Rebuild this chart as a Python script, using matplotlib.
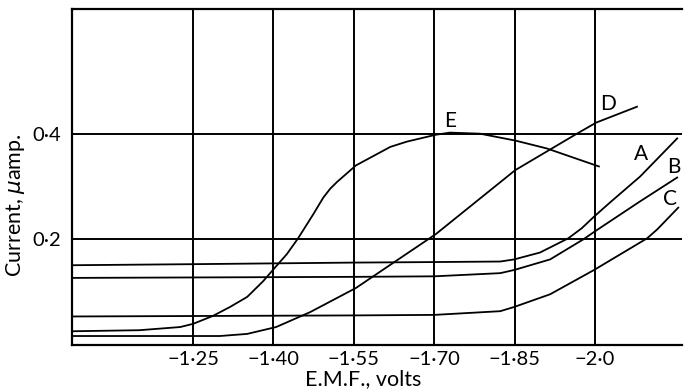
import matplotlib
matplotlib.use("Agg")
import matplotlib.pyplot as plt

plt.rcParams['font.family'] = ['Lato', 'DejaVu Sans']

# E.M.F. (volts) and current (micro-amp)
a_x = [-1.024, -1.25, -1.55, -1.70, -1.823, -1.849, -1.897, -1.950, -1.975, -1.998, -2.028, -2.084, -2.153]
a_y = [0.151, 0.153, 0.156, 0.157, 0.158, 0.162, 0.175, 0.202, 0.221, 0.243, 0.270, 0.319, 0.391]

b_x = [-1.024, -1.55, -1.70, -1.823, -1.849, -1.916, -1.978, -1.998, -2.084, -2.153]
b_y = [0.127, 0.129, 0.130, 0.136, 0.142, 0.162, 0.200, 0.214, 0.272, 0.317]

c_x = [-1.024, -1.55, -1.70, -1.823, -1.849, -1.916, -1.998, -2.097, -2.116, -2.155]
c_y = [0.054, 0.056, 0.057, 0.064, 0.072, 0.096, 0.142, 0.202, 0.219, 0.260]

d_x = [-1.024, -1.300, -1.351, -1.405, -1.468, -1.554, -1.703, -1.851, -1.966, -2.002, -2.078]
d_y = [0.017, 0.017, 0.021, 0.034, 0.062, 0.108, 0.210, 0.331, 0.400, 0.421, 0.451]

e_x = [-1.024, -1.150, -1.226, -1.250, -1.287, -1.319, -1.351, -1.381, -1.405, -1.425, -1.446,
       -1.474, -1.493, -1.506, -1.519, -1.554, -1.618, -1.649, -1.703, -1.729, -1.785, -1.851,
       -1.910, -2.007]
e_y = [0.026, 0.028, 0.034, 0.040, 0.055, 0.072, 0.091, 0.121, 0.149, 0.172, 0.202,
       0.247, 0.279, 0.296, 0.309, 0.340, 0.375, 0.385, 0.398, 0.402, 0.400, 0.387,
       0.372, 0.338]

x_ticks = [-1.25, -1.40, -1.55, -1.70, -1.85, -2.0]
x_tick_labels = ['\u22121\u00b725', '\u22121\u00b740', '\u22121\u00b755', '\u22121\u00b770', '\u22121\u00b785', '\u22122\u00b70']
y_ticks = [0.2, 0.4]
y_tick_labels = ['0\u00b72', '0\u00b74']

fig = plt.figure(figsize=(6.84, 3.89), dpi=100)
ax = fig.add_axes([72/684, 1 - 345/389, 610/684, 336/389])

ax.set_xlim(-1.0243, -2.162)
ax.set_ylim(0, 0.636)

ax.set_xticks(x_ticks)
ax.set_xticklabels(x_tick_labels)
ax.set_yticks(y_ticks)
ax.set_yticklabels(y_tick_labels)
ax.tick_params(length=0, labelsize=14.5, pad=4, colors='black')
ax.tick_params(axis='y', pad=8)

ax.grid(True, color='black', linewidth=1.4)
ax.set_axisbelow(True)

for s in ['top', 'left', 'bottom']:
    ax.spines[s].set_linewidth(1.6)
ax.spines['right'].set_visible(False)

for xs, ys in [(a_x, a_y), (b_x, b_y), (c_x, c_y), (d_x, d_y), (e_x, e_y)]:
    ax.plot(xs, ys, color='black', linewidth=1.3, solid_joinstyle='round')

lab_kw = dict(fontsize=15, ha='center', va='center', color='black')
ax.text(-1.729, 0.4245, 'E', **lab_kw)
ax.text(-2.024, 0.4566, 'D', **lab_kw)
ax.text(-2.086, 0.362, 'A', **lab_kw)
ax.text(-2.146, 0.336, 'B', **lab_kw)
ax.text(-2.140, 0.277, 'C', **lab_kw)

ax.set_xlabel('E.M.F., volts', fontsize=15.5)
ax.xaxis.set_label_coords(0.477, -0.101)
ax.xaxis.label.set_va('center')
ax.set_ylabel('Current, $\\mu$amp.', fontsize=15.5)
ax.yaxis.set_label_coords(-0.092, 0.415)
ax.yaxis.label.set_va('center')

fig.savefig('out.png', dpi=100)
